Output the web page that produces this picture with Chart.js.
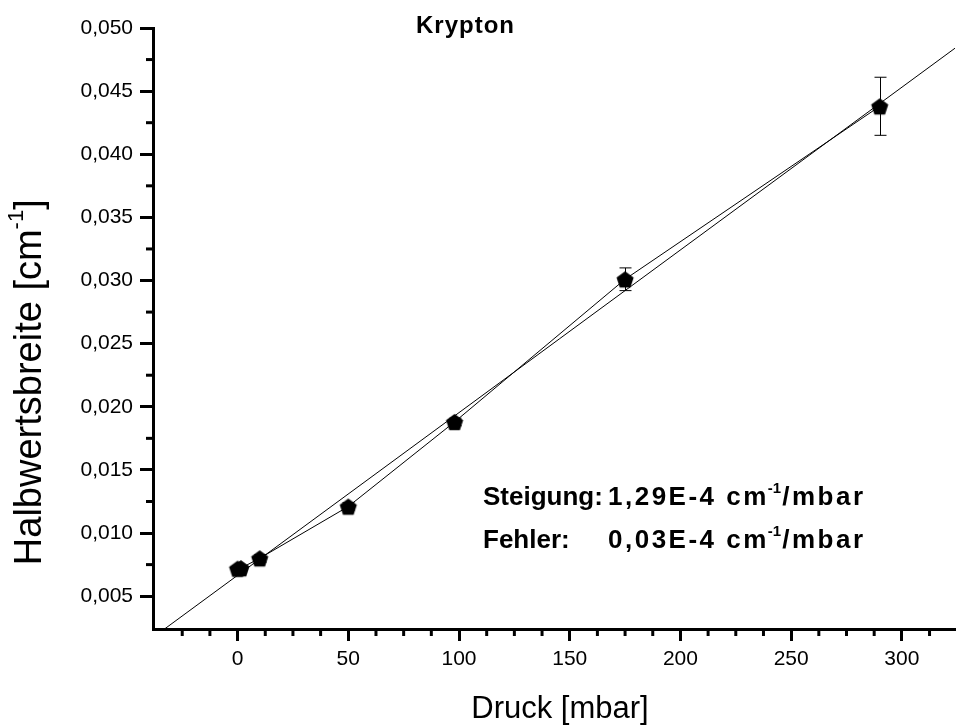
<!DOCTYPE html>
<html>
<head>
<meta charset="utf-8">
<script src="https://cdn.jsdelivr.net/npm/chart.js@4.4.1/dist/chart.umd.min.js"></script>
<style>
  html, body { margin: 0; padding: 0; background: #fff; }
</style>
</head>
<body>
<canvas id="grafico" width="965" height="727"></canvas>
<script>
// ================= DATEN =================
const druck   = [0, 1.5, 10, 50, 98, 175, 290];                 // mbar
const breite  = [0.00718, 0.00722, 0.0080, 0.0121, 0.0188, 0.0301, 0.0438]; // cm^-1
const fehlerY = [0.0002, 0.0002, 0.0003, 0.0003, 0.0003, 0.0009, 0.0023];
const fitX = [-33, 324];
const fitY = [0.0024, 0.0484];

const xMajor = [0, 50, 100, 150, 200, 250, 300];
const xMinor = [-25, -12.5, 12.5, 25, 37.5, 62.5, 75, 87.5, 112.5, 125, 137.5, 162.5, 175, 187.5,
                212.5, 225, 237.5, 262.5, 275, 287.5, 312.5];
const yMajor = [0.005, 0.010, 0.015, 0.020, 0.025, 0.030, 0.035, 0.040, 0.045, 0.050];
const yMinor = [0.0075, 0.0125, 0.0175, 0.0225, 0.0275, 0.0325, 0.0375, 0.0425, 0.0475];

const FONT = "'Liberation Sans', Arial, sans-serif";

// ================= SYMBOL (Fuenfeck) =================
function fuenfeck(r) {
  const c = document.createElement('canvas');
  c.width = c.height = Math.ceil(r * 2 + 2);
  const g = c.getContext('2d');
  const m = c.width / 2;
  g.beginPath();
  for (let i = 0; i < 5; i++) {
    const a = -Math.PI / 2 + i * 2 * Math.PI / 5;
    const px = m + r * Math.cos(a), py = m + 1 + r * Math.sin(a);
    if (i === 0) g.moveTo(px, py); else g.lineTo(px, py);
  }
  g.closePath();
  g.fillStyle = '#000';
  g.fill();
  return c;
}
const symbol = fuenfeck(9);

// Text mit Sperrung zeichnen, gibt neue x-Position zurueck
function text(ctx, s, x, y, font, sperr) {
  ctx.font = font;
  ctx.letterSpacing = (sperr || 0) + 'px';
  ctx.fillText(s, x, y);
  const w = ctx.measureText(s).width;
  ctx.letterSpacing = '0px';
  return x + w;
}

// ================= PLUGIN: Fehlerbalken, kleine Ticks, Texte =================
const extras = {
  id: 'extras',
  beforeDatasetsDraw(chart) {
    const { ctx, scales: { x, y } } = chart;
    ctx.save();
    ctx.strokeStyle = '#000';
    ctx.lineWidth = 1;
    druck.forEach((d, i) => {
      const px = Math.round(x.getPixelForValue(d)) + 0.5;
      const yt = y.getPixelForValue(breite[i] + fehlerY[i]);
      const yb = y.getPixelForValue(breite[i] - fehlerY[i]);
      ctx.beginPath();
      ctx.moveTo(px, yt); ctx.lineTo(px, yb);
      ctx.moveTo(px - 6, yt); ctx.lineTo(px + 6, yt);
      ctx.moveTo(px - 6, yb); ctx.lineTo(px + 6, yb);
      ctx.stroke();
    });
    ctx.restore();
  },
  afterDraw(chart) {
    const { ctx, chartArea, scales: { x, y } } = chart;
    ctx.save();
    ctx.strokeStyle = '#000';
    ctx.lineWidth = 3;
    // kleine Ticks
    xMinor.forEach(v => {
      const px = x.getPixelForValue(v);
      ctx.beginPath(); ctx.moveTo(px, chartArea.bottom); ctx.lineTo(px, chartArea.bottom + 7); ctx.stroke();
    });
    yMinor.forEach(v => {
      const py = y.getPixelForValue(v);
      ctx.beginPath(); ctx.moveTo(chartArea.left, py); ctx.lineTo(chartArea.left - 7, py); ctx.stroke();
    });

    ctx.fillStyle = '#000';
    ctx.textBaseline = 'alphabetic';
    // Titel
    ctx.textAlign = 'left';
    text(ctx, 'Krypton', 416, 33, 'bold 24px ' + FONT, 1);

    // Achsentitel x
    ctx.textAlign = 'center';
    ctx.font = '31px ' + FONT;
    ctx.fillText('Druck [mbar]', 560, 718);

    // Achsentitel y (gedreht, mit Hochzahl)
    ctx.translate(41, 382);
    ctx.rotate(-Math.PI / 2);
    ctx.textAlign = 'left';
    const t1 = 'Halbwertsbreite [cm';
    ctx.font = '38px ' + FONT;
    const w1 = ctx.measureText(t1).width;
    ctx.font = '22px ' + FONT;
    const w2 = ctx.measureText('-1').width;
    const wges = w1 + w2 + 11;
    ctx.font = '38px ' + FONT;
    ctx.fillText(t1, -wges / 2, 0);
    ctx.font = '22px ' + FONT;
    ctx.fillText('-1', -wges / 2 + w1, -18);
    ctx.font = '38px ' + FONT;
    ctx.fillText(']', -wges / 2 + w1 + w2, 0);
    ctx.setTransform(1, 0, 0, 1, 0, 0);

    // Steigung / Fehler
    const zeile = (label, wert, yb) => {
      const f = 'bold 26px ' + FONT;
      text(ctx, label, 483, yb, f, 0);
      let cx = text(ctx, wert, 608, yb, f, 2.5);
      cx = text(ctx, ' cm', cx, yb, f, 2.5);
      cx = text(ctx, '-1', cx - 1, yb - 12, 'bold 15px ' + FONT, 0);
      text(ctx, '/mbar', cx + 1, yb, f, 2.5);
    };
    zeile('Steigung:', '1,29E-4', 505);
    zeile('Fehler:', '0,03E-4', 548);
    ctx.restore();
  }
};

// ================= GRAFIK =================
const ctx = document.getElementById('grafico').getContext('2d');
new Chart(ctx, {
  type: 'scatter',
  data: {
    datasets: [
      {
        label: 'Messwerte',
        data: druck.map((d, i) => ({ x: d, y: breite[i] })),
        showLine: true,
        borderColor: '#000',
        borderWidth: 1,
        pointStyle: symbol,
        pointRadius: 9,
        pointHoverRadius: 9
      },
      {
        label: 'Fit',
        data: fitX.map((d, i) => ({ x: d, y: fitY[i] })),
        showLine: true,
        borderColor: '#000',
        borderWidth: 1,
        pointRadius: 0
      }
    ]
  },
  options: {
    responsive: false,
    animation: false,
    devicePixelRatio: 1,
    layout: { padding: { top: 28, right: 0, bottom: 0, left: 0 } },
    plugins: { legend: { display: false }, tooltip: { enabled: false } },
    scales: {
      x: {
        type: 'linear',
        min: -38.2,
        max: 324,
        afterBuildTicks: s => { s.ticks = xMajor.map(v => ({ value: v })); },
        afterFit: s => { s.height = 98; },
        ticks: {
          font: { family: FONT, size: 21 },
          color: '#000',
          padding: 6,
          maxRotation: 0,
          autoSkip: false
        },
        grid: { drawOnChartArea: false, drawTicks: true, tickLength: 12, tickWidth: 3, tickColor: '#000' },
        border: { color: '#000', width: 3 }
      },
      y: {
        type: 'linear',
        min: 0.0024,
        max: 0.050,
        afterBuildTicks: s => { s.ticks = yMajor.map(v => ({ value: v })); },
        afterFit: s => { s.width = 153; },
        ticks: {
          font: { family: FONT, size: 21 },
          color: '#000',
          padding: 7,
          callback: v => v.toFixed(3).replace('.', ',')
        },
        grid: { drawOnChartArea: false, drawTicks: true, tickLength: 13, tickWidth: 3, tickColor: '#000' },
        border: { color: '#000', width: 3 }
      }
    }
  },
  plugins: [extras]
});
</script>
</body>
</html>
